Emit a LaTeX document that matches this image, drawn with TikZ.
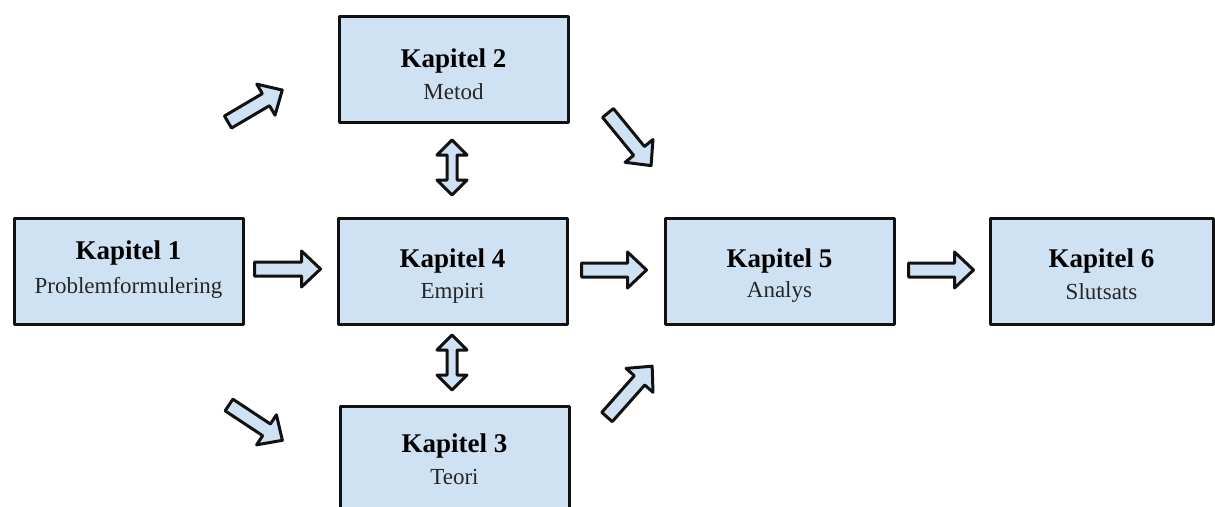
\documentclass[tikz,border=0pt]{standalone}
\usepackage{fontspec}
\setmainfont{Liberation Serif}
\usetikzlibrary{positioning,calc}

\definecolor{boxfill}{HTML}{CFE2F3}
\definecolor{edge}{HTML}{111111}
\definecolor{subtext}{HTML}{262626}

\tikzset{
  chapter/.style={draw=edge, fill=boxfill, line width=3pt, line join=round,
    minimum width=229pt, minimum height=106pt, inner sep=0pt, anchor=north west},
  title/.style={anchor=base, font=\fontsize{27}{30}\selectfont\bfseries, text=black, inner sep=0pt},
  subtitle/.style={anchor=base, font=\fontsize{23}{26}\selectfont, text=subtext, inner sep=0pt},
  barrow/.style={draw=edge, fill=boxfill, line width=3pt, line join=round}
}

% block arrow: tail (x,y), direction angle, length
\newcommand\blockarrow[4]{%
  \draw[barrow, shift={(#1,#2)}, rotate=#3]
    (0,-7) -- ({#4-19},-7) -- ({#4-19},-18) -- (#4,0)
    -- ({#4-19},18) -- ({#4-19},7) -- (0,7) -- cycle;}

% vertical two-headed block arrow: x, top tip, bottom tip
\newcommand\twowayarrow[3]{%
  \draw[barrow]
    (#1,#2) -- ({#1+15},{#2+15}) -- ({#1+5},{#2+15}) -- ({#1+5},{#3-15})
    -- ({#1+15},{#3-15}) -- (#1,#3) -- ({#1-15},{#3-15}) -- ({#1-5},{#3-15})
    -- ({#1-5},{#2+15}) -- ({#1-15},{#2+15}) -- cycle;}

\begin{document}
\begin{tikzpicture}[x=1pt, y=-1pt]
\clip (0,0) rectangle (1215,506);
\fill[white] (0,0) rectangle (1215,506);

% chapter boxes
\node[chapter] (k1) at (12.5,216.5) {};
\node[chapter] (k2) at (337.5,14.5) {};
\node[chapter] (k4) at (336.5,216.5) {};
\node[chapter, minimum height=110pt] (k3) at (338.5,404.5) {};
\node[chapter] (k5) at (663.5,216.5) {};
\node[chapter, minimum width=223pt] (k6) at (988.5,216.5) {};

% box texts
\node[title]    (t1) at ($(k1.north)+(0,43)$) {Kapitel 1};
\node[subtitle] (s1) at ($(k1.north)+(0,77)$) {Problemformulering};
\node[title]    (t2) at ($(k2.north)+(0,53)$) {Kapitel 2};
\node[subtitle] (s2) at ($(k2.north)+(0,85)$) {Metod};
\node[title]    (t4) at ($(k4.north)+(0,51)$) {Kapitel 4};
\node[subtitle] (s4) at ($(k4.north)+(0,82)$) {Empiri};
\node[title]    (t3) at ($(k3.north)+(0,48)$) {Kapitel 3};
\node[subtitle] (s3) at ($(k3.north)+(0,80)$) {Teori};
\node[title]    (t5) at ($(k5.north)+(0,51)$) {Kapitel 5};
\node[subtitle] (s5) at ($(k5.north)+(0,81)$) {Analys};
\node[title]    (t6) at ($(k6.north)+(0,51)$) {Kapitel 6};
\node[subtitle] (s6) at ($(k6.north)+(0,83)$) {Slutsats};

% straight arrows along the middle row
\blockarrow{254.5}{269}{0}{66}
\blockarrow{581.5}{270}{0}{65}
\blockarrow{908.5}{270}{0}{65}

% diagonal arrows
\blockarrow{228}{122}{30.5}{63}
\blockarrow{229}{405}{-33.5}{64}
\blockarrow{608}{113}{-50.7}{68}
\blockarrow{607}{417}{48.4}{68}

% two-way arrows between the centre column boxes
\twowayarrow{452}{140}{195}
\twowayarrow{452}{335}{390}
\end{tikzpicture}
\end{document}
